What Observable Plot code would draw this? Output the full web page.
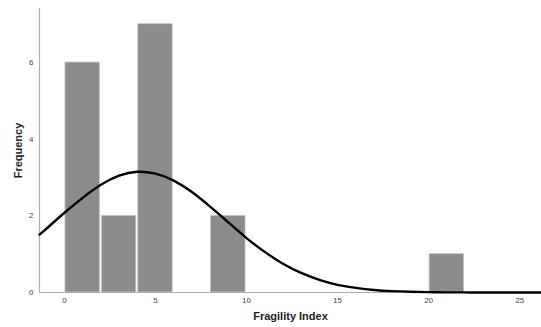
<!DOCTYPE html>
<html>
<head>
<meta charset="utf-8">
<script src="https://cdn.jsdelivr.net/npm/d3@7"></script>
<script src="https://cdn.jsdelivr.net/npm/@observablehq/plot@0.6"></script>
<style>
  html, body { margin: 0; padding: 0; background: #fff; }
  svg { display: block; }
</style>
</head>
<body>
<div id="chart"></div>
<script>
// Histogram bins (Fragility Index) and frequencies
const binStart = [0, 2, 4, 8, 20];
const binEnd   = [2, 4, 6, 10, 22];
const frequency = [6, 2, 7, 2, 1];

// Fitted normal curve
const curveX = [-1.37, -1, 0, 1, 2, 3, 4, 5, 6, 7, 8, 9, 10, 11, 12, 13, 14, 15, 16, 17, 18, 19, 20, 21, 22, 23, 24, 25, 26.2];
const curveY = [1.51, 1.66, 2.08, 2.47, 2.81, 3.05, 3.15, 3.10, 2.92, 2.62, 2.24, 1.83, 1.42, 1.06, 0.75, 0.51, 0.33, 0.20, 0.12, 0.066, 0.035, 0.018, 0.009, 0.004, 0.002, 0.001, 0, 0, 0];

const xTicks = [0, 5, 10, 15, 20, 25];
const yTicks = [0, 2, 4, 6];

const bars = binStart.map((s, i) => ({x1: s, x2: binEnd[i], y: frequency[i]}));
const curve = curveX.map((x, i) => ({x, y: curveY[i]}));

const xMin = -1.37, xMax = 26.2;

const chart = Plot.plot({
  width: 541,
  height: 327,
  marginLeft: 39,
  marginRight: 0,
  marginTop: 8,
  marginBottom: 35,
  style: {fontFamily: "Liberation Sans, Arial, sans-serif", fontSize: "8px", color: "#333", background: "#fff"},
  x: {domain: [xMin, xMax]},
  y: {domain: [0, 7.41]},
  marks: [
    Plot.rectY(bars, {x1: "x1", x2: "x2", y: "y", fill: "#8c8c8c", stroke: "#c4c4c4", strokeWidth: 0.8, insetLeft: 1, insetRight: 1}),
    Plot.ruleX([xMin], {stroke: "#b0b0b0", strokeWidth: 1.2}),
    Plot.ruleY([0], {stroke: "#b0b0b0", strokeWidth: 1.2}),
    Plot.line(curve, {x: "x", y: "y", stroke: "#000", strokeWidth: 2.4, curve: "natural"}),
    Plot.axisX({ticks: xTicks, tickSize: 0, tickPadding: 5, label: null, fill: "#444"}),
    Plot.axisY({ticks: yTicks, tickSize: 0, tickPadding: 6, label: null, fill: "#444"}),
    Plot.text(["Fragility Index"], {frameAnchor: "bottom", dy: 27, fontSize: 11, fontWeight: "bold", fill: "#222"}),
    Plot.text(["Frequency"], {frameAnchor: "left", textAnchor: "middle", dx: -21, rotate: -90, fontSize: 11, fontWeight: "bold", fill: "#222"})
  ]
});
document.getElementById("chart").appendChild(chart);
</script>
</body>
</html>
